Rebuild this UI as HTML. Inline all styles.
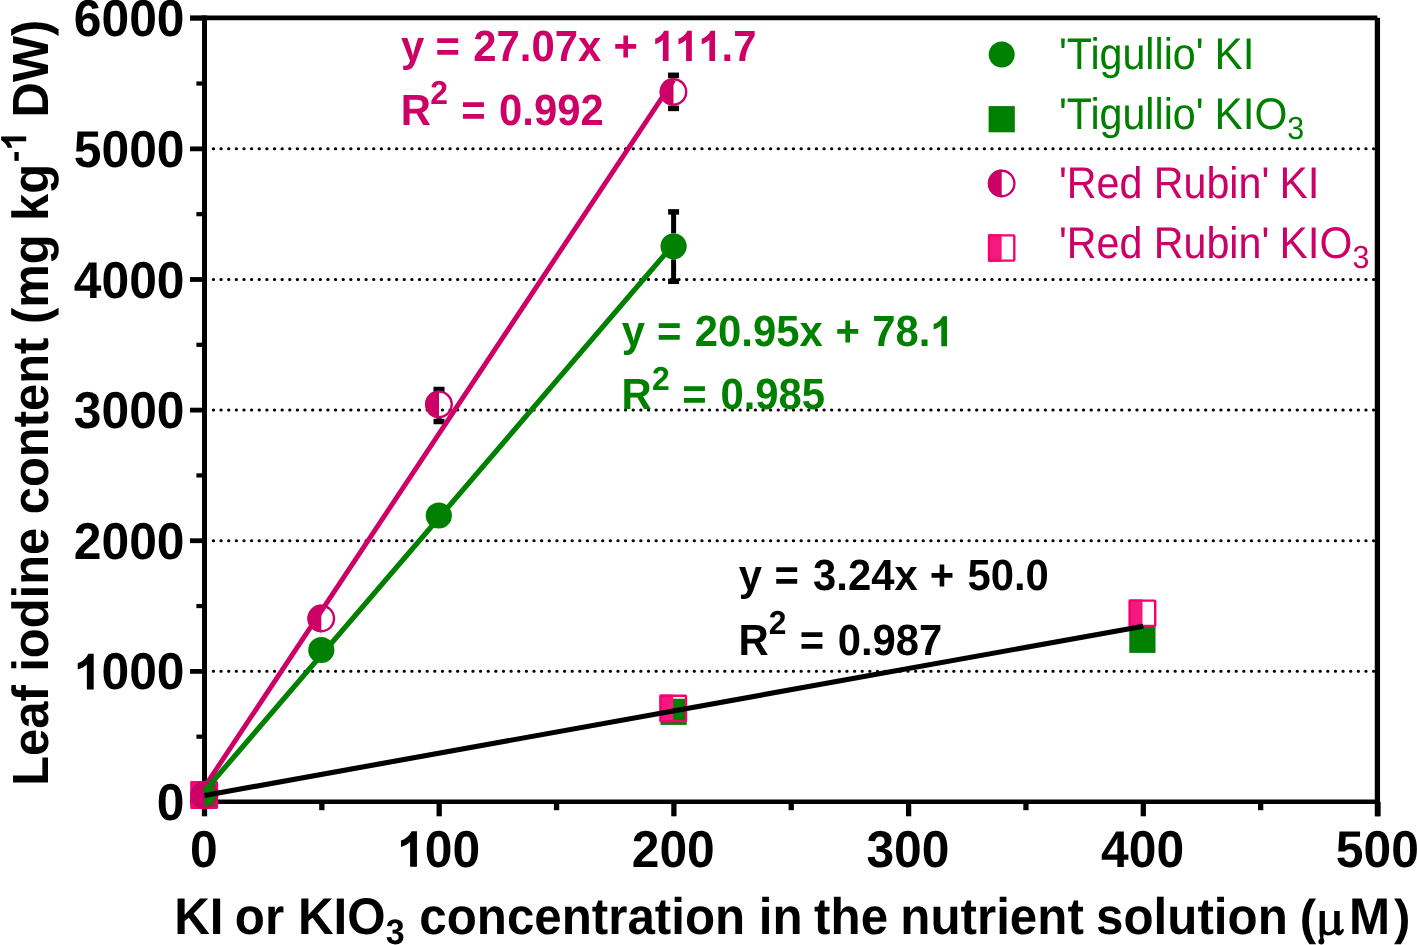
<!DOCTYPE html>
<html><head><meta charset="utf-8"><style>
html,body{margin:0;padding:0;background:#fff;}
body{width:1417px;height:945px;overflow:hidden;}
svg{display:block;}
#w{width:1417px;height:945px;will-change:transform;}
text{font-family:"Liberation Sans",sans-serif;font-kerning:none;white-space:pre;}
</style></head><body><div id="w">
<svg width="1417" height="945" viewBox="0 0 1417 945" text-rendering="geometricPrecision">
<rect width="1417" height="945" fill="#fff"/>
<line x1="213.3" y1="671.37" x2="1376" y2="671.37" stroke="#000" stroke-width="3" stroke-linecap="round" stroke-dasharray="0.3 7.3325"/>
<line x1="213.3" y1="540.74" x2="1376" y2="540.74" stroke="#000" stroke-width="3" stroke-linecap="round" stroke-dasharray="0.3 7.3325"/>
<line x1="213.3" y1="410.11" x2="1376" y2="410.11" stroke="#000" stroke-width="3" stroke-linecap="round" stroke-dasharray="0.3 7.3325"/>
<line x1="213.3" y1="279.48" x2="1376" y2="279.48" stroke="#000" stroke-width="3" stroke-linecap="round" stroke-dasharray="0.3 7.3325"/>
<line x1="213.3" y1="148.85" x2="1376" y2="148.85" stroke="#000" stroke-width="3" stroke-linecap="round" stroke-dasharray="0.3 7.3325"/>
<line x1="190" y1="17.85" x2="1377.3" y2="17.85" stroke="#000" stroke-width="4.9"/>
<line x1="204.5" y1="15.5" x2="204.5" y2="816" stroke="#000" stroke-width="5"/>
<line x1="1377.4" y1="17.7" x2="1377.4" y2="816.3" stroke="#000" stroke-width="5.3"/>
<line x1="202" y1="801.8" x2="1380" y2="801.8" stroke="#000" stroke-width="4.6"/>
<line x1="190" y1="802.00" x2="204" y2="802.00" stroke="#000" stroke-width="4.8"/>
<line x1="190" y1="671.37" x2="204" y2="671.37" stroke="#000" stroke-width="4.8"/>
<line x1="190" y1="540.74" x2="204" y2="540.74" stroke="#000" stroke-width="4.8"/>
<line x1="190" y1="410.11" x2="204" y2="410.11" stroke="#000" stroke-width="4.8"/>
<line x1="190" y1="279.48" x2="204" y2="279.48" stroke="#000" stroke-width="4.8"/>
<line x1="190" y1="148.85" x2="204" y2="148.85" stroke="#000" stroke-width="4.8"/>
<line x1="190" y1="18.22" x2="204" y2="18.22" stroke="#000" stroke-width="4.8"/>
<line x1="196.4" y1="736.68" x2="204" y2="736.68" stroke="#000" stroke-width="4.2"/>
<line x1="196.4" y1="606.06" x2="204" y2="606.06" stroke="#000" stroke-width="4.2"/>
<line x1="196.4" y1="475.43" x2="204" y2="475.43" stroke="#000" stroke-width="4.2"/>
<line x1="196.4" y1="344.80" x2="204" y2="344.80" stroke="#000" stroke-width="4.2"/>
<line x1="196.4" y1="214.16" x2="204" y2="214.16" stroke="#000" stroke-width="4.2"/>
<line x1="196.4" y1="83.53" x2="204" y2="83.53" stroke="#000" stroke-width="4.2"/>
<line x1="204.50" y1="802" x2="204.50" y2="816.3" stroke="#000" stroke-width="5.3"/>
<line x1="439.20" y1="802" x2="439.20" y2="816.3" stroke="#000" stroke-width="5.3"/>
<line x1="673.90" y1="802" x2="673.90" y2="816.3" stroke="#000" stroke-width="5.3"/>
<line x1="908.60" y1="802" x2="908.60" y2="816.3" stroke="#000" stroke-width="5.3"/>
<line x1="1143.30" y1="802" x2="1143.30" y2="816.3" stroke="#000" stroke-width="5.3"/>
<line x1="1378.00" y1="802" x2="1378.00" y2="816.3" stroke="#000" stroke-width="5.3"/>
<line x1="321.85" y1="802" x2="321.85" y2="810.2" stroke="#000" stroke-width="5.3"/>
<line x1="556.55" y1="802" x2="556.55" y2="810.2" stroke="#000" stroke-width="5.3"/>
<line x1="791.25" y1="802" x2="791.25" y2="810.2" stroke="#000" stroke-width="5.3"/>
<line x1="1025.95" y1="802" x2="1025.95" y2="810.2" stroke="#000" stroke-width="5.3"/>
<line x1="1260.65" y1="802" x2="1260.65" y2="810.2" stroke="#000" stroke-width="5.3"/>
<g transform="translate(156.85,820.05) scale(1,1.04)" fill="#000" font-weight="bold"><text x="0.00" y="0.00" font-size="49.8">0</text></g>
<g transform="translate(73.76,689.42) scale(1,1.04)" fill="#000" font-weight="bold"><path transform="translate(0.00,0.00) scale(49.8)" d="M0.0800,-0.3827 L0.0800,-0.5077 C0.1700,-0.5385 0.2500,-0.5962 0.2940,-0.6885 L0.4000,-0.6885 L0.4000,0.0000 L0.2630,0.0000 L0.2630,-0.4788 C0.2200,-0.4375 0.1500,-0.4019 0.0800,-0.3827 Z"/><text x="27.70" y="0.00" font-size="49.8">000</text></g>
<g transform="translate(73.76,558.79) scale(1,1.04)" fill="#000" font-weight="bold"><text x="0.00" y="0.00" font-size="49.8">2000</text></g>
<g transform="translate(73.76,428.16) scale(1,1.04)" fill="#000" font-weight="bold"><text x="0.00" y="0.00" font-size="49.8">3000</text></g>
<g transform="translate(73.76,297.53) scale(1,1.04)" fill="#000" font-weight="bold"><text x="0.00" y="0.00" font-size="49.8">4000</text></g>
<g transform="translate(73.76,166.90) scale(1,1.04)" fill="#000" font-weight="bold"><text x="0.00" y="0.00" font-size="49.8">5000</text></g>
<g transform="translate(73.76,36.27) scale(1,1.04)" fill="#000" font-weight="bold"><text x="0.00" y="0.00" font-size="49.8">6000</text></g>
<g transform="translate(190.00,866.80) scale(1,1.04)" fill="#000" font-weight="bold"><text x="0.00" y="0.00" font-size="49.8">0</text></g>
<g transform="translate(397.01,866.80) scale(1,1.04)" fill="#000" font-weight="bold"><path transform="translate(0.00,0.00) scale(49.8)" d="M0.0800,-0.3827 L0.0800,-0.5077 C0.1700,-0.5385 0.2500,-0.5962 0.2940,-0.6885 L0.4000,-0.6885 L0.4000,0.0000 L0.2630,0.0000 L0.2630,-0.4788 C0.2200,-0.4375 0.1500,-0.4019 0.0800,-0.3827 Z"/><text x="27.70" y="0.00" font-size="49.8">00</text></g>
<g transform="translate(631.71,866.80) scale(1,1.04)" fill="#000" font-weight="bold"><text x="0.00" y="0.00" font-size="49.8">200</text></g>
<g transform="translate(866.41,866.80) scale(1,1.04)" fill="#000" font-weight="bold"><text x="0.00" y="0.00" font-size="49.8">300</text></g>
<g transform="translate(1101.11,866.80) scale(1,1.04)" fill="#000" font-weight="bold"><text x="0.00" y="0.00" font-size="49.8">400</text></g>
<g transform="translate(1335.81,866.80) scale(1,1.04)" fill="#000" font-weight="bold"><text x="0.00" y="0.00" font-size="49.8">500</text></g>
<g transform="translate(47.70,782.60) rotate(-90) translate(-3.27,0) scale(1,1.04)" fill="#000" font-weight="bold"><text x="0.00" y="0.00" font-size="48.9">Leaf iodine content (mg kg</text><text x="623.74" y="-20.67" font-size="35">-</text><path transform="translate(635.39,-20.67) scale(35)" d="M0.0800,-0.3827 L0.0800,-0.5077 C0.1700,-0.5385 0.2500,-0.5962 0.2940,-0.6885 L0.4000,-0.6885 L0.4000,0.0000 L0.2630,0.0000 L0.2630,-0.4788 C0.2200,-0.4375 0.1500,-0.4019 0.0800,-0.3827 Z"/><text x="654.86" y="0.00" font-size="48.9"> DW)</text></g>
<g transform="translate(174.20,934.00) scale(1,1.045)" fill="#000" font-weight="bold"><text x="0.00" y="0.00" font-size="49.3">KI</text></g>
<g transform="translate(234.87,934.00) scale(1,1.045)" fill="#000" font-weight="bold"><text x="0.00" y="0.00" font-size="49.3">or</text></g>
<g transform="translate(298.00,934.00) scale(1,1.045)" fill="#000" font-weight="bold"><text x="0.00" y="0.00" font-size="49.3">KIO</text><text x="87.65" y="9.38" font-size="34">3</text></g>
<g transform="translate(419.27,934.00) scale(1,1.045)" fill="#000" font-weight="bold"><text x="0.00" y="0.00" font-size="49.3">concentration</text></g>
<g transform="translate(758.76,934.00) scale(1,1.045)" fill="#000" font-weight="bold"><text x="0.00" y="0.00" font-size="49.3">in</text></g>
<g transform="translate(814.10,934.00) scale(1,1.045)" fill="#000" font-weight="bold"><text x="0.00" y="0.00" font-size="49.3">the</text></g>
<g transform="translate(900.35,934.00) scale(1,1.045)" fill="#000" font-weight="bold"><text x="0.00" y="0.00" font-size="49.3">nutrient</text></g>
<g transform="translate(1096.07,934.00) scale(1,1.045)" fill="#000" font-weight="bold"><text x="0.00" y="0.00" font-size="49.3">solution</text></g>
<g transform="translate(1349.00,934.00) scale(1,1.045)" fill="#000" font-weight="bold"><text x="0.00" y="0.00" font-size="49.3">M</text></g>
<g transform="translate(1299.64,934.00) scale(1,0.995)" fill="#000" font-weight="bold"><text x="0.00" y="0.00" font-size="49.3">(</text></g>
<g transform="translate(1393.95,934.00) scale(1,0.995)" fill="#000" font-weight="bold"><text x="0.00" y="0.00" font-size="49.3">)</text></g>
<path fill="#000" d="M1319.6,911.1 L1324.9,911.1 L1324.9,929.3 C1325.4,931.3 1326.9,932.3 1329,932.2 C1331.4,932.1 1333.2,930.6 1334.2,928.6 L1334.2,911.1 L1339.7,911.1 L1339.7,928.8 C1339.8,930.4 1340.4,931.1 1341.1,930.5 L1342.2,928.7 L1344.1,929.5 C1343.4,932.6 1341.6,935.4 1339,935.4 C1337.1,935.4 1335.6,934.1 1334.9,932.4 C1333.1,934.3 1330.6,935.4 1327.8,935.4 C1326.2,935.4 1324.8,934.9 1323.6,934.3 L1323.4,938.2 C1324.2,939.6 1324.5,941.2 1324.2,942.5 C1323.8,943.8 1322.7,944.4 1321.3,944.4 C1319.7,944.4 1318.3,943.5 1318.3,941.8 C1318.3,940.4 1319.4,939.4 1320.3,938.3 L1319.6,934 Z"/>
<line x1="673.60" y1="211.90" x2="673.60" y2="233.30" stroke="#000" stroke-width="5"/>
<line x1="673.60" y1="259.30" x2="673.60" y2="281.30" stroke="#000" stroke-width="5"/>
<line x1="668.10" y1="211.90" x2="679.10" y2="211.90" stroke="#000" stroke-width="5.5"/>
<line x1="668.10" y1="281.30" x2="679.10" y2="281.30" stroke="#000" stroke-width="5.5"/>
<line x1="439.00" y1="389.50" x2="439.00" y2="390.40" stroke="#000" stroke-width="5"/>
<line x1="439.00" y1="418.20" x2="439.00" y2="421.50" stroke="#000" stroke-width="5"/>
<line x1="433.50" y1="389.50" x2="444.50" y2="389.50" stroke="#000" stroke-width="5.5"/>
<line x1="433.50" y1="421.50" x2="444.50" y2="421.50" stroke="#000" stroke-width="5.5"/>
<line x1="673.50" y1="75.30" x2="673.50" y2="78.00" stroke="#000" stroke-width="5"/>
<line x1="673.50" y1="105.80" x2="673.50" y2="108.40" stroke="#000" stroke-width="5"/>
<line x1="668.00" y1="75.30" x2="679.00" y2="75.30" stroke="#000" stroke-width="5.5"/>
<line x1="668.00" y1="108.40" x2="679.00" y2="108.40" stroke="#000" stroke-width="5.5"/>
<circle cx="204.3" cy="795.5" r="13.1" fill="#008000"/>
<circle cx="321.3" cy="650" r="13.1" fill="#008000"/>
<circle cx="438.8" cy="515.5" r="13.1" fill="#008000"/>
<circle cx="673.6" cy="246.3" r="13.1" fill="#008000"/>
<rect x="191.20" y="782.40" width="26.2" height="26.2" fill="#008000"/>
<rect x="660.50" y="698.70" width="26.2" height="26.2" fill="#008000"/>
<rect x="1129.30" y="626.70" width="26.2" height="26.2" fill="#008000"/>
<rect x="190.40" y="781.10" width="13.9" height="27.8" fill="#f5197f"/>
<rect x="191.60" y="782.30" width="25.400000000000002" height="25.400000000000002" rx="0.8" fill="none" stroke="#fa006e" stroke-width="2.4"/>
<rect x="659.40" y="694.50" width="13.9" height="27.8" fill="#f5197f"/>
<rect x="660.60" y="695.70" width="25.400000000000002" height="25.400000000000002" rx="0.8" fill="none" stroke="#fa006e" stroke-width="2.4"/>
<rect x="1128.60" y="599.40" width="13.9" height="27.8" fill="#f5197f"/>
<rect x="1129.80" y="600.60" width="25.400000000000002" height="25.400000000000002" rx="0.8" fill="none" stroke="#fa006e" stroke-width="2.4"/>
<path d="M204.3,781.3000000000001 A13.9,13.9 0 0 0 204.3,809.1 Z" fill="#cc0066"/>
<circle cx="204.3" cy="795.2" r="12.700000000000001" fill="none" stroke="#cc0066" stroke-width="2.4"/>
<path d="M321.3,604.6 A13.9,13.9 0 0 0 321.3,632.4 Z" fill="#cc0066"/>
<circle cx="321.3" cy="618.5" r="12.700000000000001" fill="none" stroke="#cc0066" stroke-width="2.4"/>
<path d="M439,390.40000000000003 A13.9,13.9 0 0 0 439,418.2 Z" fill="#cc0066"/>
<circle cx="439" cy="404.3" r="12.700000000000001" fill="none" stroke="#cc0066" stroke-width="2.4"/>
<path d="M673.5,78.0 A13.9,13.9 0 0 0 673.5,105.80000000000001 Z" fill="#cc0066"/>
<circle cx="673.5" cy="91.9" r="12.700000000000001" fill="none" stroke="#cc0066" stroke-width="2.4"/>
<line x1="204.25" y1="787.41" x2="673.65" y2="80.18" stroke="#cc0066" stroke-width="4.9"/>
<line x1="204.00" y1="791.80" x2="673.40" y2="244.46" stroke="#008000" stroke-width="5.2"/>
<line x1="204.50" y1="795.47" x2="1143.30" y2="626.17" stroke="#000" stroke-width="5.1"/>
<g transform="translate(401.07,60.90) scale(1,1.045)" fill="#cc0066" font-weight="bold"><text x="0.00" y="0.00" font-size="41.8">y</text></g>
<g transform="translate(435.47,60.90) scale(1,1.045)" fill="#cc0066" font-weight="bold"><text x="0.00" y="0.00" font-size="41.8">=</text></g>
<g transform="translate(473.35,60.90) scale(1,1.045)" fill="#cc0066" font-weight="bold"><text x="0.00" y="0.00" font-size="41.8">27.07x</text></g>
<g transform="translate(613.44,60.90) scale(1,1.045)" fill="#cc0066" font-weight="bold"><text x="0.00" y="0.00" font-size="41.8">+</text></g>
<g transform="translate(651.86,60.90) scale(1,1.045)" fill="#cc0066" font-weight="bold"><path transform="translate(0.00,0.00) scale(41.8)" d="M0.0800,-0.3827 L0.0800,-0.5077 C0.1700,-0.5385 0.2500,-0.5962 0.2940,-0.6885 L0.4000,-0.6885 L0.4000,0.0000 L0.2630,0.0000 L0.2630,-0.4788 C0.2200,-0.4375 0.1500,-0.4019 0.0800,-0.3827 Z"/><path transform="translate(23.25,0.00) scale(41.8)" d="M0.0800,-0.3827 L0.0800,-0.5077 C0.1700,-0.5385 0.2500,-0.5962 0.2940,-0.6885 L0.4000,-0.6885 L0.4000,0.0000 L0.2630,0.0000 L0.2630,-0.4788 C0.2200,-0.4375 0.1500,-0.4019 0.0800,-0.3827 Z"/><path transform="translate(46.49,0.00) scale(41.8)" d="M0.0800,-0.3827 L0.0800,-0.5077 C0.1700,-0.5385 0.2500,-0.5962 0.2940,-0.6885 L0.4000,-0.6885 L0.4000,0.0000 L0.2630,0.0000 L0.2630,-0.4788 C0.2200,-0.4375 0.1500,-0.4019 0.0800,-0.3827 Z"/><text x="69.74" y="0.00" font-size="41.8">.7</text></g>
<g transform="translate(400.70,124.50) scale(1,1.045)" fill="#cc0066" font-weight="bold"><text x="0.00" y="0.00" font-size="41.8">R</text></g>
<g transform="translate(430.20,104.30) scale(1,1.045)" fill="#cc0066" font-weight="bold"><text x="0.00" y="0.00" font-size="31.8">2</text></g>
<g transform="translate(461.17,124.50) scale(1,1.045)" fill="#cc0066" font-weight="bold"><text x="0.00" y="0.00" font-size="41.8">=</text></g>
<g transform="translate(499.05,124.50) scale(1,1.045)" fill="#cc0066" font-weight="bold"><text x="0.00" y="0.00" font-size="41.8">0.992</text></g>
<g transform="translate(621.67,346.20) scale(1,1.045)" fill="#008000" font-weight="bold"><text x="0.00" y="0.00" font-size="41.8">y</text></g>
<g transform="translate(657.07,346.20) scale(1,1.045)" fill="#008000" font-weight="bold"><text x="0.00" y="0.00" font-size="41.8">=</text></g>
<g transform="translate(694.85,346.20) scale(1,1.045)" fill="#008000" font-weight="bold"><text x="0.00" y="0.00" font-size="41.8">20.95x</text></g>
<g transform="translate(835.44,346.20) scale(1,1.045)" fill="#008000" font-weight="bold"><text x="0.00" y="0.00" font-size="41.8">+</text></g>
<g transform="translate(872.20,346.20) scale(1,1.045)" fill="#008000" font-weight="bold"><text x="0.00" y="0.00" font-size="41.8">78.</text><path transform="translate(58.11,0.00) scale(41.8)" d="M0.0800,-0.3827 L0.0800,-0.5077 C0.1700,-0.5385 0.2500,-0.5962 0.2940,-0.6885 L0.4000,-0.6885 L0.4000,0.0000 L0.2630,0.0000 L0.2630,-0.4788 C0.2200,-0.4375 0.1500,-0.4019 0.0800,-0.3827 Z"/></g>
<g transform="translate(621.50,409.40) scale(1,1.045)" fill="#008000" font-weight="bold"><text x="0.00" y="0.00" font-size="41.8">R</text></g>
<g transform="translate(651.90,389.60) scale(1,1.045)" fill="#008000" font-weight="bold"><text x="0.00" y="0.00" font-size="31.8">2</text></g>
<g transform="translate(682.37,409.40) scale(1,1.045)" fill="#008000" font-weight="bold"><text x="0.00" y="0.00" font-size="41.8">=</text></g>
<g transform="translate(720.45,409.40) scale(1,1.045)" fill="#008000" font-weight="bold"><text x="0.00" y="0.00" font-size="41.8">0.985</text></g>
<g transform="translate(738.67,589.80) scale(1,1.045)" fill="#000" font-weight="bold"><text x="0.00" y="0.00" font-size="41.8">y</text></g>
<g transform="translate(774.47,589.80) scale(1,1.045)" fill="#000" font-weight="bold"><text x="0.00" y="0.00" font-size="41.8">=</text></g>
<g transform="translate(813.04,589.80) scale(1,1.045)" fill="#000" font-weight="bold"><text x="0.00" y="0.00" font-size="41.8">3.24x</text></g>
<g transform="translate(929.84,589.80) scale(1,1.045)" fill="#000" font-weight="bold"><text x="0.00" y="0.00" font-size="41.8">+</text></g>
<g transform="translate(967.51,589.80) scale(1,1.045)" fill="#000" font-weight="bold"><text x="0.00" y="0.00" font-size="41.8">50.0</text></g>
<g transform="translate(738.40,654.60) scale(1,1.045)" fill="#000" font-weight="bold"><text x="0.00" y="0.00" font-size="41.8">R</text></g>
<g transform="translate(768.80,634.40) scale(1,1.045)" fill="#000" font-weight="bold"><text x="0.00" y="0.00" font-size="31.8">2</text></g>
<g transform="translate(799.67,654.60) scale(1,1.045)" fill="#000" font-weight="bold"><text x="0.00" y="0.00" font-size="41.8">=</text></g>
<g transform="translate(837.65,654.60) scale(1,1.045)" fill="#000" font-weight="bold"><text x="0.00" y="0.00" font-size="41.8">0.987</text></g>
<circle cx="1001.7" cy="54.5" r="13.0" fill="#008000"/>
<rect x="988.60" y="106.10" width="26.2" height="26.2" fill="#008000"/>
<path d="M1001.7,169.6 A13.9,13.9 0 0 0 1001.7,197.4 Z" fill="#cc0066"/>
<circle cx="1001.7" cy="183.5" r="12.700000000000001" fill="none" stroke="#cc0066" stroke-width="2.4"/>
<rect x="987.90" y="234.20" width="13.8" height="27.6" fill="#f5197f"/>
<rect x="989.10" y="235.40" width="25.200000000000003" height="25.200000000000003" rx="0.8" fill="none" stroke="#fa006e" stroke-width="2.4"/>
<g transform="translate(1058.91,68.90) scale(1,1.075)" fill="#008000" font-weight="normal"><text x="0.00" y="0.00" font-size="41.2" style="font-kerning:normal">&#39;Tigullio&#39;</text></g>
<g transform="translate(1214.43,68.90) scale(1,1.047)" fill="#008000" font-weight="normal"><text x="0.00" y="0.00" font-size="42.3" style="font-kerning:normal">KI</text></g>
<g transform="translate(1058.91,129.00) scale(1,1.075)" fill="#008000" font-weight="normal"><text x="0.00" y="0.00" font-size="41.2" style="font-kerning:normal">&#39;Tigullio&#39;</text></g>
<g transform="translate(1214.43,129.00) scale(1,1.047)" fill="#008000" font-weight="normal"><text x="0.00" y="0.00" font-size="42.3" style="font-kerning:normal">KIO</text><text x="72.87" y="9.84" font-size="30.4" style="font-kerning:normal">3</text></g>
<g transform="translate(1058.91,197.70) scale(1,1.075)" fill="#cc0066" font-weight="normal"><text x="0.00" y="0.00" font-size="41.2" style="font-kerning:normal">&#39;Red Rubin&#39;</text></g>
<g transform="translate(1279.53,197.70) scale(1,1.047)" fill="#cc0066" font-weight="normal"><text x="0.00" y="0.00" font-size="42.3" style="font-kerning:normal">KI</text></g>
<g transform="translate(1058.91,258.00) scale(1,1.075)" fill="#cc0066" font-weight="normal"><text x="0.00" y="0.00" font-size="41.2" style="font-kerning:normal">&#39;Red Rubin&#39;</text></g>
<g transform="translate(1279.53,258.00) scale(1,1.047)" fill="#cc0066" font-weight="normal"><text x="0.00" y="0.00" font-size="42.3" style="font-kerning:normal">KIO</text><text x="72.87" y="9.84" font-size="30.4" style="font-kerning:normal">3</text></g>
</svg>
</div></body></html>
